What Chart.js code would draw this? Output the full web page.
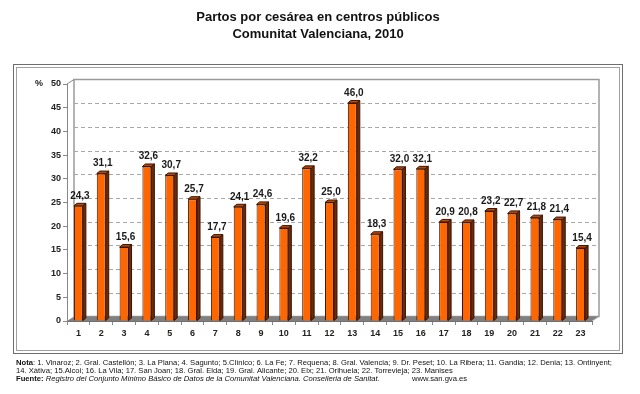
<!DOCTYPE html>
<html>
<head>
<meta charset="utf-8">
<script src="https://cdn.jsdelivr.net/npm/chart.js"></script>
<style>
  html,body{margin:0;padding:0;background:#fff;}
  #grafico1{display:block;}
</style>
</head>
<body>
<canvas id="myChart" width="640" height="394"></canvas>
<script>
const hospitales=['1','2','3','4','5','6','7','8','9','10','11','12','13','14','15','16','17','18','19','20','21','22','23'];
const cesareas=[24.3,31.1,15.6,32.6,30.7,25.7,17.7,24.1,24.6,19.6,32.2,25.0,46.0,18.3,32.0,32.1,20.9,20.8,23.2,22.7,21.8,21.4,15.4];
const tituloLineas=['Partos por cesárea en centros públicos','Comunitat Valenciana, 2010'];
const notaLinea1=['Nota',': 1. Vinaroz; 2. Gral. Castellón; 3. La Plana; 4. Sagunto; 5.Clínico; 6. La Fe; 7. Requena; 8. Gral. Valencia; 9. Dr. Peset; 10. La Ribera; 11. Gandia; 12. Denia; 13. Ontinyent;'];
const notaLinea2='14. Xàtiva; 15.Alcoi; 16. La Vila; 17. San Joan; 18. Gral. Elda; 19. Gral. Alicante; 20. Elx; 21. Orihuela; 22. Torrevieja; 23. Manises';
const fuente=['Fuente:',' Registro del Conjunto Mínimo Básico de Datos de la Comunitat Valenciana. Conselleria de Sanitat.','www.san.gva.es'];

const fuenteTxt='"Liberation Sans", Arial, sans-serif';
// profundidad del efecto 3d
const dx=7, dy=-4.5;
const bdx=3, bdy=-2.5;

const fondo={
  id:'fondo',
  beforeDraw(chart){
    const c=chart.ctx, a=chart.chartArea, ys=chart.scales.y;
    c.save();
    c.fillStyle='#fff';
    c.fillRect(0,0,chart.width,chart.height);

    // titulo
    c.fillStyle='#111';
    c.font='bold 13px '+fuenteTxt;
    c.textAlign='center';c.textBaseline='middle';
    c.fillText(tituloLineas[0],318,17);
    c.fillText(tituloLineas[1],318,34);

    // marco doble
    c.lineWidth=1;
    c.strokeStyle='#6e6e6e';
    c.strokeRect(13.5,64.5,609,289);
    c.strokeStyle='#a0a0a0';
    c.strokeRect(16.5,67.5,603,283);

    // pared del fondo
    c.fillStyle='#fff';
    c.strokeStyle='#9a9a9a';
    c.lineWidth=1.5;
    c.strokeRect(a.left+dx,a.top+dy,a.right-a.left,a.bottom-a.top);
    // lineas de division
    c.lineWidth=1;
    c.setLineDash([4,3]);
    c.strokeStyle='#a8a8a8';
    for(let v=5;v<50;v+=5){
      const y=Math.round(ys.getPixelForValue(v)+dy)+0.5;
      c.beginPath();c.moveTo(a.left+dx,y);c.lineTo(a.right+dx,y);c.stroke();
    }
    c.setLineDash([]);
    // diagonal superior del eje
    c.strokeStyle='#888';
    c.beginPath();c.moveTo(a.left,a.top);c.lineTo(a.left+dx,a.top+dy);c.stroke();
    // suelo
    c.fillStyle='#808080';
    c.beginPath();
    c.moveTo(a.left,a.bottom);c.lineTo(a.right,a.bottom);
    c.lineTo(a.right+dx,a.bottom+dy);c.lineTo(a.left+dx,a.bottom+dy);
    c.closePath();c.fill();
    c.strokeStyle='#b0b0b0';
    c.beginPath();c.moveTo(a.right,a.bottom);c.lineTo(a.right+dx,a.bottom+dy);c.stroke();

    // %
    c.fillStyle='#222';
    c.font='bold 9px '+fuenteTxt;
    c.textAlign='center';
    c.fillText('%',39,84);

    // notas
    c.textAlign='left';c.textBaseline='middle';
    c.font='7px '+fuenteTxt;
    let ancho=c.measureText(notaLinea1[0]+notaLinea1[1]).width;
    let tam=7*596/ancho;
    const normal=tam.toFixed(2)+'px '+fuenteTxt;
    const negrita='bold '+normal;
    const cursiva='italic '+normal;
    c.fillStyle='#111';
    c.font=negrita;c.fillText(notaLinea1[0],16,363);
    let w=c.measureText(notaLinea1[0]).width;
    c.font=normal;c.fillText(notaLinea1[1],16+w,363);
    c.fillText(notaLinea2,16,371);
    c.font=negrita;c.fillText(fuente[0],16,379);
    w=c.measureText(fuente[0]).width;
    c.font=cursiva;c.fillText(fuente[1],16+w,379);
    c.font=normal;c.fillText(fuente[2],412,379);
    c.restore();
  },
  afterDatasetsDraw(chart){
    const c=chart.ctx;
    const barras=chart.getDatasetMeta(0).data;
    c.save();
    c.lineWidth=1;
    barras.forEach((b,i)=>{
      const izq=b.x-b.width/2, der=b.x+b.width/2, arriba=b.y, abajo=b.base;
      // lateral
      c.fillStyle='#6b2a0a';
      c.strokeStyle='#3a1504';
      c.beginPath();
      c.moveTo(der,arriba);c.lineTo(der+bdx,arriba+bdy);
      c.lineTo(der+bdx,abajo+bdy);c.lineTo(der,abajo);
      c.closePath();c.fill();c.stroke();
      // tapa
      c.fillStyle='#b84a08';
      c.beginPath();
      c.moveTo(izq,arriba);c.lineTo(izq+bdx,arriba+bdy);
      c.lineTo(der+bdx,arriba+bdy);c.lineTo(der,arriba);
      c.closePath();c.fill();c.stroke();
      // etiqueta
      c.fillStyle='#1a1a1a';
      c.font='bold 10px '+fuenteTxt;
      c.textAlign='center';c.textBaseline='middle';
      c.fillText(cesareas[i].toFixed(1).replace('.',','),b.x+1.5,arriba-10);
    });
    c.restore();
  }
};

const ctx=document.getElementById('myChart');
const configuracion={
  type:'bar',
  data:{
    labels:hospitales,
    datasets:[{
      label:'Partos por cesárea',
      data:cesareas,
      backgroundColor:'#ff6600',
      borderColor:'#3a1504',
      borderWidth:1,
      categoryPercentage:0.8,
      barPercentage:0.49
    }]
  },
  options:{
    responsive:false,
    animation:false,
    events:[],
    layout:{padding:{left:25,right:48,top:84,bottom:53}},
    plugins:{legend:{display:false},title:{display:false},tooltip:{enabled:false}},
    scales:{
      x:{
        grid:{offset:true,drawOnChartArea:false,tickLength:4,color:'#888'},
        border:{color:'#707070'},
        ticks:{font:{family:fuenteTxt,size:9,weight:'bold'},color:'#222',padding:3,maxRotation:0,autoSkip:false},
        afterFit(s){s.height=20;}
      },
      y:{
        min:0,max:50,
        grid:{drawOnChartArea:false,tickLength:4,color:'#888'},
        border:{color:'#888'},
        ticks:{stepSize:5,font:{family:fuenteTxt,size:9,weight:'bold'},color:'#222',padding:2},
        afterFit(s){s.width=42;}
      }
    }
  },
  plugins:[fondo]
};
let grafica=new Chart(ctx,configuracion);
</script>
</body>
</html>
